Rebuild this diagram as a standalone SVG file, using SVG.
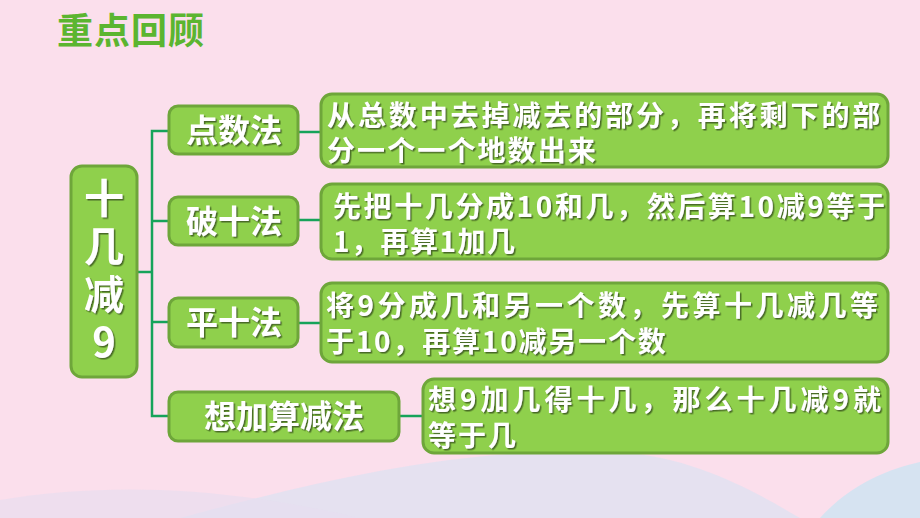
<svg xmlns="http://www.w3.org/2000/svg" width="920" height="518" viewBox="0 0 920 518">
<defs>
<filter id="sh" x="-10%" y="-10%" width="120%" height="130%">
<feDropShadow dx="1.5" dy="1.5" stdDeviation="0.6" flood-color="#3d5a1e" flood-opacity="0.85"/>
</filter>
</defs>
<style>
.box{fill:#8fd04c;stroke:#6ea63a;stroke-width:3}
.t{fill:#ffffff;font-family:"Noto Sans CJK SC","Noto Sans",sans-serif;font-weight:bold;filter:url(#sh)}
.node{font-size:32px;text-anchor:middle}
.det{font-size:28px}
.root{font-size:40px;writing-mode:vertical-rl;text-orientation:upright;letter-spacing:8px}
.con{fill:none;stroke:#16a35a;stroke-width:2.5}
</style>
<rect width="920" height="518" fill="#fbdfec"/>
<path d="M180 518 C320 480 470 445 620 452 C700 458 760 495 800 518 Z" fill="#dde2f2" opacity="0.75"/>
<path d="M820 518 C850 485 885 470 920 462 L920 518 Z" fill="#d2e3f2" opacity="0.9"/>
<path d="M0 500 C120 480 240 490 360 518 L0 518 Z" fill="#e6def0" opacity="0.6"/>
<text x="57" y="44" font-family="'Noto Sans CJK SC',sans-serif" font-size="36" font-weight="bold" fill="#5bb530" letter-spacing="1">重点回顾</text>
<g id="connectors">
<path class="con" d="M169 131 H152 V416 H169"/>
<path class="con" d="M137 272 H152"/>
<path class="con" d="M152 221 H169"/>
<path class="con" d="M152 322 H169"/>
<path class="con" d="M298 132 H321"/>
<path class="con" d="M298 220 H321"/>
<path class="con" d="M298 323 H321"/>
<path class="con" d="M399 416 H423"/>
</g>
<g id="root">
<rect class="box" x="71" y="166" width="66" height="211" rx="11"/>
<text class="t root" x="104" y="178">十几减9</text>
</g>
<g id="n1">
<rect class="box" x="169" y="106" width="129" height="48" rx="9"/>
<text class="t node" x="234" y="142">点数法</text>
</g>
<g id="n2">
<rect class="box" x="169" y="197" width="129" height="48" rx="9"/>
<text class="t node" x="234" y="233">破十法</text>
</g>
<g id="n3">
<rect class="box" x="169" y="298" width="129" height="49" rx="9"/>
<text class="t node" x="234" y="334">平十法</text>
</g>
<g id="n4">
<rect class="box" x="169" y="392" width="230" height="49" rx="9"/>
<text class="t node" x="284" y="428">想加算减法</text>
</g>
<g id="d1">
<rect class="box" x="321" y="94" width="567" height="73" rx="11"/>
<text class="t det"><tspan x="327" y="126" letter-spacing="2.9">从总数中去掉减去的部分，再将剩下的部</tspan><tspan x="327" y="161" letter-spacing="2.1">分一个一个地数出来</tspan></text>
</g>
<g id="d2">
<rect class="box" x="321" y="184" width="567" height="75" rx="11"/>
<text class="t det"><tspan x="333" y="217" letter-spacing="2.6">先把十几分成10和几，然后算10减9等于</tspan><tspan x="333" y="252" letter-spacing="1.5">1，再算1加几</tspan></text>
</g>
<g id="d3">
<rect class="box" x="321" y="283" width="567" height="79" rx="11"/>
<text class="t det"><tspan x="326" y="316" letter-spacing="3.5">将9分成几和另一个数，先算十几减几等</tspan><tspan x="326" y="352" letter-spacing="1.8">于10，再算10减另一个数</tspan></text>
</g>
<g id="d4">
<rect class="box" x="423" y="379" width="465" height="74" rx="11"/>
<text class="t det"><tspan x="428" y="410" letter-spacing="4">想9加几得十几，那么十几减9就</tspan><tspan x="428" y="446" letter-spacing="2">等于几</tspan></text>
</g>
</svg>
